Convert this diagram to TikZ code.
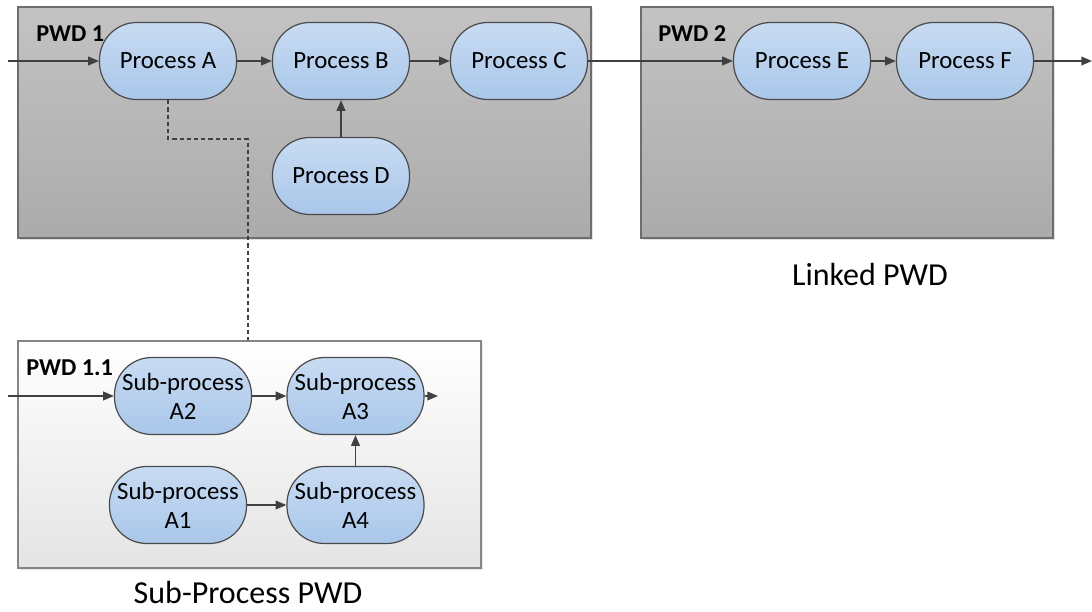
\documentclass[tikz,border=0pt]{standalone}
\usepackage{fontspec}
\setmainfont{Carlito}
\usetikzlibrary{arrows.meta,shadows}
\definecolor{nodetop}{HTML}{C8DBF2}
\definecolor{nodebot}{HTML}{A9C7EA}
\definecolor{nodeline}{HTML}{4A4A4A}
\definecolor{boxtop}{HTML}{C3C3C3}
\definecolor{boxbot}{HTML}{ABABAB}
\definecolor{boxline}{HTML}{6E6E6E}
\definecolor{subtop}{HTML}{FFFFFF}
\definecolor{subbot}{HTML}{E4E4E4}
\definecolor{subline}{HTML}{858585}
\definecolor{arrowcol}{HTML}{404040}
\begin{document}
\begin{tikzpicture}[x=0.75pt,y=-0.75pt,
  proc/.style={draw=nodeline, line width=0.9pt, top color=nodetop, bottom color=nodebot,
    rounded corners=28pt, minimum width=102.75pt, minimum height=57.75pt, inner sep=0pt,
    font=\fontsize{18.6}{21.75}\selectfont, align=center},
  pwdbox/.style={draw=boxline, line width=0.9pt, top color=boxtop, bottom color=boxbot,
    inner sep=0pt, drop shadow={shadow xshift=1.8pt, shadow yshift=-1.8pt, fill=black!12, opacity=1}},
  subbox/.style={draw=subline, line width=0.9pt, top color=subtop, bottom color=subbot,
    inner sep=0pt, drop shadow={shadow xshift=1.8pt, shadow yshift=-1.8pt, fill=black!10, opacity=1}},
  flow/.style={draw=arrowcol, line width=1.2pt, -{Triangle[length=8pt,width=6.5pt]}},
  linkline/.style={draw=arrowcol, line width=1.9pt, dash pattern=on 3.2pt off 2.2pt},
  boxlabel/.style={anchor=base west, inner sep=0pt, font=\fontsize{18.2}{20}\selectfont\bfseries},
  caption/.style={inner sep=0pt, font=\fontsize{24}{28}\selectfont}
]
\useasboundingbox (0,0) rectangle (1092,611);

% containers
\node[pwdbox, minimum width=429.75pt, minimum height=173.25pt] (pwd1) at (304.5,122.5) {};
\node[pwdbox, minimum width=309pt, minimum height=173.25pt] (pwd2) at (847,122.5) {};
\node[subbox, minimum width=347.25pt, minimum height=170.25pt] (pwd11) at (249.5,454.5) {};

\node[boxlabel] (l1) at (36,41) {PWD 1};
\node[boxlabel] (l2) at (658,41) {PWD 2};
\node[boxlabel] (l11) at (26,375) {PWD 1.1};

% processes
\node[proc] (pa) at (168,61) {Process A};
\node[proc] (pb) at (341,61) {Process B};
\node[proc] (pc) at (519,61) {Process C};
\node[proc] (pd) at (341,176) {Process D};
\node[proc] (pe) at (802,61) {Process E};
\node[proc] (pf) at (965,61) {Process F};

% sub-processes
\node[proc] (a2) at (183,396) {Sub-process\\A2};
\node[proc] (a3) at (355.5,396) {Sub-process\\A3};
\node[proc] (a1) at (178,505) {Sub-process\\A1};
\node[proc] (a4) at (355.5,505) {Sub-process\\A4};

% captions
\node[caption] (cap2) at (870,274) {Linked PWD};
\node[caption] (cap11) at (248,592) {Sub-Process PWD};

% free ends
\coordinate (in1) at (8,61);
\coordinate (out2) at (1092,61);
\coordinate (in11) at (8,396);
\coordinate (out11) at (438,396);
\coordinate (bend) at (248,139);

% connectors
\draw[flow] (in1) -- (pa.west);
\draw[flow] (pa) -- (pb);
\draw[flow] (pb) -- (pc);
\draw[flow] (pd) -- (pb);
\draw[flow] (pc) -- (pe);
\draw[flow] (pe) -- (pf);
\draw[flow] (pf.east) -- (out2);

\draw[flow] (in11) -- (a2.west);
\draw[flow] (a2) -- (a3);
\draw[flow] (a3.east) -- (out11);
\draw[flow] (a1) -- (a4);
\draw[flow] (a4) -- (a3);

\draw[linkline] (pa.south) |- (bend) -- (bend |- pwd11.north);
\end{tikzpicture}
\end{document}
